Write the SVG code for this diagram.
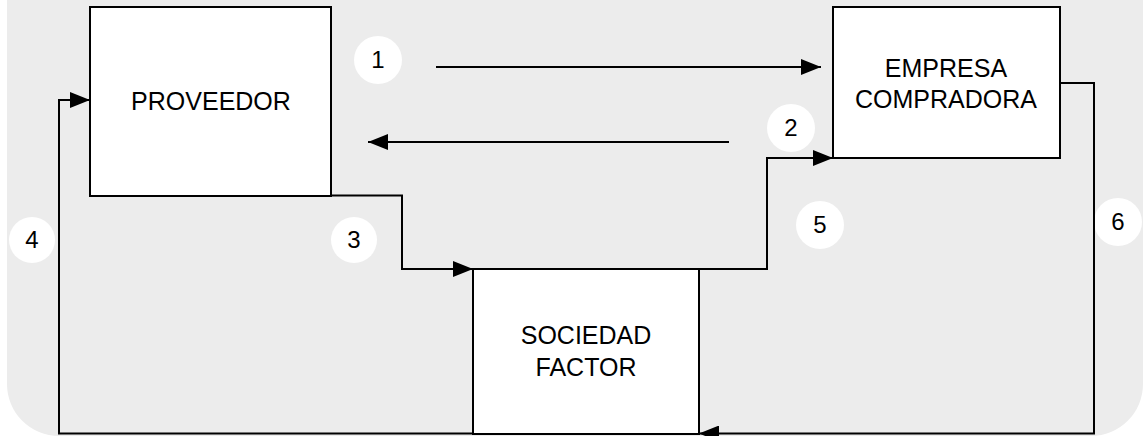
<svg xmlns="http://www.w3.org/2000/svg" width="1144" height="436" viewBox="0 0 1144 436">
<style>
.box{fill:#ffffff;stroke:#000000;stroke-width:2}
.lbl{font-family:"Liberation Sans",Arial,sans-serif;font-size:25px;fill:#000000;text-anchor:middle}
.num{font-family:"Liberation Sans",Arial,sans-serif;font-size:24px;fill:#000000;text-anchor:middle}
.badge{fill:#ffffff}
.con{fill:none;stroke:#000000;stroke-width:2}
</style>
<defs>
<marker id="arr" viewBox="0 0 20 16" refX="20" refY="8" markerWidth="20" markerHeight="16" markerUnits="userSpaceOnUse" orient="auto">
<path d="M0,0 L20,8 L0,16 Z" fill="#000000"/>
</marker>
</defs>
<rect x="7" y="-80" width="1136" height="516" rx="52" ry="52" fill="#ececec"/>
<g id="labels">
<g id="n1"><circle class="badge" cx="378" cy="60" r="24"/><text class="num" x="378" y="68">1</text></g>
<g id="n2"><circle class="badge" cx="791" cy="128" r="24"/><text class="num" x="791" y="136">2</text></g>
<g id="n3"><circle class="badge" cx="354" cy="240" r="23"/><text class="num" x="354" y="248">3</text></g>
<g id="n4"><circle class="badge" cx="32" cy="240" r="23"/><text class="num" x="32" y="248">4</text></g>
<g id="n5"><circle class="badge" cx="820" cy="225" r="24"/><text class="num" x="820" y="233">5</text></g>
<g id="n6"><circle class="badge" cx="1118" cy="222" r="24"/><text class="num" x="1118" y="230">6</text></g>
</g>
<g id="connectors">
<line class="con" x1="436" y1="67" x2="821" y2="67" marker-end="url(#arr)"/>
<line class="con" x1="729" y1="142" x2="368" y2="142" marker-end="url(#arr)"/>
<path class="con" d="M331,195.5 H402 V269 H473" marker-end="url(#arr)"/>
<path class="con" d="M473,433.5 H59 V100 H90" marker-end="url(#arr)"/>
<path class="con" d="M699,269 H767 V158 H833" marker-end="url(#arr)"/>
<path class="con" d="M1060,83 H1094 V433.5 H699" marker-end="url(#arr)"/>
</g>
<g id="proveedor">
<rect class="box" x="90" y="7" width="241" height="189"/>
<text class="lbl" x="211" y="110">PROVEEDOR</text>
</g>
<g id="empresa">
<rect class="box" x="833" y="7" width="227" height="151"/>
<text class="lbl" x="946" y="77">EMPRESA</text>
<text class="lbl" x="946" y="108">COMPRADORA</text>
</g>
<g id="sociedad">
<rect class="box" x="473" y="269" width="226" height="165"/>
<text class="lbl" x="586" y="344">SOCIEDAD</text>
<text class="lbl" x="586" y="376">FACTOR</text>
</g>
</svg>
